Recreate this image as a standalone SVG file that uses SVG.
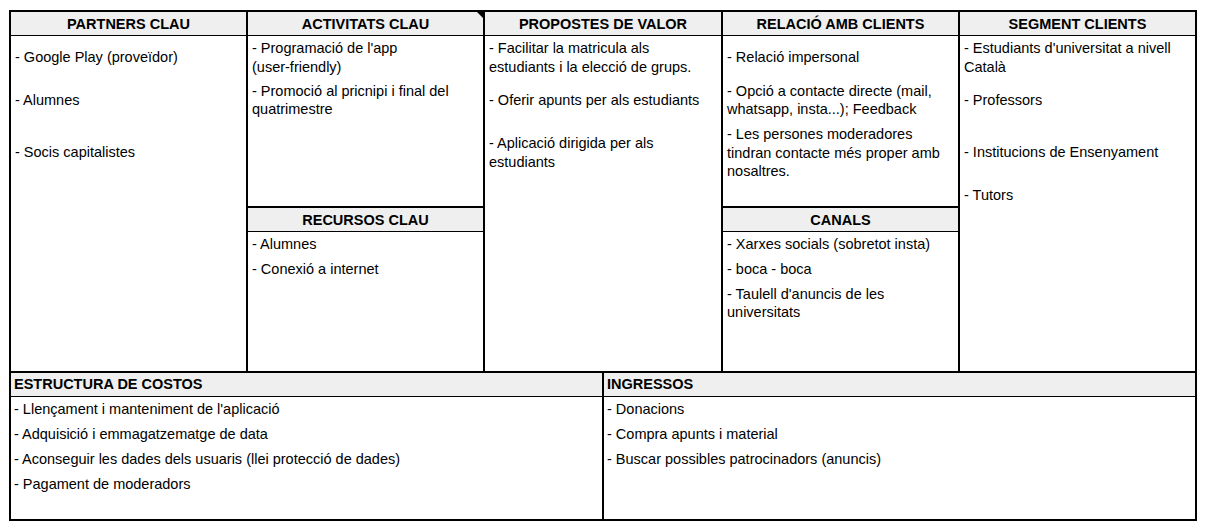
<svg xmlns="http://www.w3.org/2000/svg" width="1206" height="530" viewBox="0 0 1206 530">
<style>
.hdr{fill:#efefef}
.h{font-family:"Liberation Sans",Arial,sans-serif;font-size:14.5px;font-weight:bold;fill:#000;text-anchor:middle}
.hl{font-family:"Liberation Sans",Arial,sans-serif;font-size:14.5px;font-weight:bold;fill:#000}
.t{font-family:"Liberation Sans",Arial,sans-serif;font-size:14.5px;fill:#000}
.thick{stroke:#000;stroke-width:2;fill:none}
.thin{stroke:#000;stroke-width:1;fill:none}
</style>
<rect width="1206" height="530" fill="#fff"/>
<g id="bands">
<rect class="hdr" x="10" y="11" width="1186" height="25"/>
<rect class="hdr" x="247" y="207" width="237" height="24"/>
<rect class="hdr" x="722" y="207" width="237" height="24"/>
<rect class="hdr" x="10" y="372" width="1186" height="24"/>
</g>
<g id="grid">
<rect class="thick" x="10" y="11" width="1186" height="509"/>
<line class="thin" x1="10" y1="35.5" x2="1196" y2="35.5"/>
<line class="thick" x1="247" y1="11" x2="247" y2="372"/>
<line class="thick" x1="484" y1="11" x2="484" y2="372"/>
<line class="thick" x1="722" y1="11" x2="722" y2="372"/>
<line class="thick" x1="959" y1="11" x2="959" y2="372"/>
<line class="thick" x1="247" y1="207" x2="484" y2="207"/>
<line class="thin" x1="247" y1="231.5" x2="484" y2="231.5"/>
<line class="thick" x1="722" y1="207" x2="959" y2="207"/>
<line class="thin" x1="722" y1="231.5" x2="959" y2="231.5"/>
<line class="thick" x1="10" y1="372" x2="1196" y2="372"/>
<line class="thin" x1="10" y1="396.5" x2="1196" y2="396.5"/>
<line class="thick" x1="603" y1="372" x2="603" y2="520"/>
<polygon points="477,12 483,12 483,18" fill="#000"/>
</g>
<g id="partners">
<text class="h" x="128.5" y="29">PARTNERS CLAU</text>
<text class="t" x="15" y="62">- Google Play (proveïdor)</text>
<text class="t" x="15" y="105">- Alumnes</text>
<text class="t" x="15" y="157">- Socis capitalistes</text>
</g>
<g id="activitats">
<text class="h" x="365.5" y="29">ACTIVITATS CLAU</text>
<text class="t" x="252" y="53">- Programació de l'app</text>
<text class="t" x="252" y="71.5">(user-friendly)</text>
<text class="t" x="252" y="95.5">- Promoció al pricnipi i final del</text>
<text class="t" x="252" y="114">quatrimestre</text>
</g>
<g id="recursos">
<text class="h" x="365.5" y="225">RECURSOS CLAU</text>
<text class="t" x="252" y="248.5">- Alumnes</text>
<text class="t" x="252" y="273.5">- Conexió a internet</text>
</g>
<g id="propostes">
<text class="h" x="603" y="29">PROPOSTES DE VALOR</text>
<text class="t" x="489" y="53">- Facilitar la matricula als</text>
<text class="t" x="489" y="71.5">estudiants i la elecció de grups.</text>
<text class="t" x="489" y="105">- Oferir apunts per als estudiants</text>
<text class="t" x="489" y="148">- Aplicació dirigida per als</text>
<text class="t" x="489" y="166.5">estudiants</text>
</g>
<g id="relacio">
<text class="h" x="840.5" y="29">RELACIÓ AMB CLIENTS</text>
<text class="t" x="727" y="62">- Relació impersonal</text>
<text class="t" x="727" y="95.5">- Opció a contacte directe (mail,</text>
<text class="t" x="727" y="114">whatsapp, insta...); Feedback</text>
<text class="t" x="727" y="139">- Les persones moderadores</text>
<text class="t" x="727" y="157.5">tindran contacte més proper amb</text>
<text class="t" x="727" y="176">nosaltres.</text>
</g>
<g id="canals">
<text class="h" x="840.5" y="225">CANALS</text>
<text class="t" x="727" y="248.5">- Xarxes socials (sobretot insta)</text>
<text class="t" x="727" y="273.5">- boca - boca</text>
<text class="t" x="727" y="298.5">- Taulell d'anuncis de les</text>
<text class="t" x="727" y="317">universitats</text>
</g>
<g id="segment">
<text class="h" x="1077.5" y="29">SEGMENT CLIENTS</text>
<text class="t" x="964" y="53">- Estudiants d'universitat a nivell</text>
<text class="t" x="964" y="71.5">Català</text>
<text class="t" x="964" y="105">- Professors</text>
<text class="t" x="964" y="157">- Institucions de Ensenyament</text>
<text class="t" x="964" y="199.5">- Tutors</text>
</g>
<g id="costos">
<text class="hl" x="14" y="389">ESTRUCTURA DE COSTOS</text>
<text class="t" x="14" y="413.5">- Llençament i manteniment de l'aplicació</text>
<text class="t" x="14" y="438.5">- Adquisició i emmagatzematge de data</text>
<text class="t" x="14" y="463.5">- Aconseguir les dades dels usuaris (llei protecció de dades)</text>
<text class="t" x="14" y="488.5">- Pagament de moderadors</text>
</g>
<g id="ingressos">
<text class="hl" x="607" y="389">INGRESSOS</text>
<text class="t" x="607" y="413.5">- Donacions</text>
<text class="t" x="607" y="438.5">- Compra apunts i material</text>
<text class="t" x="607" y="463.5">- Buscar possibles patrocinadors (anuncis)</text>
</g>
</svg>
